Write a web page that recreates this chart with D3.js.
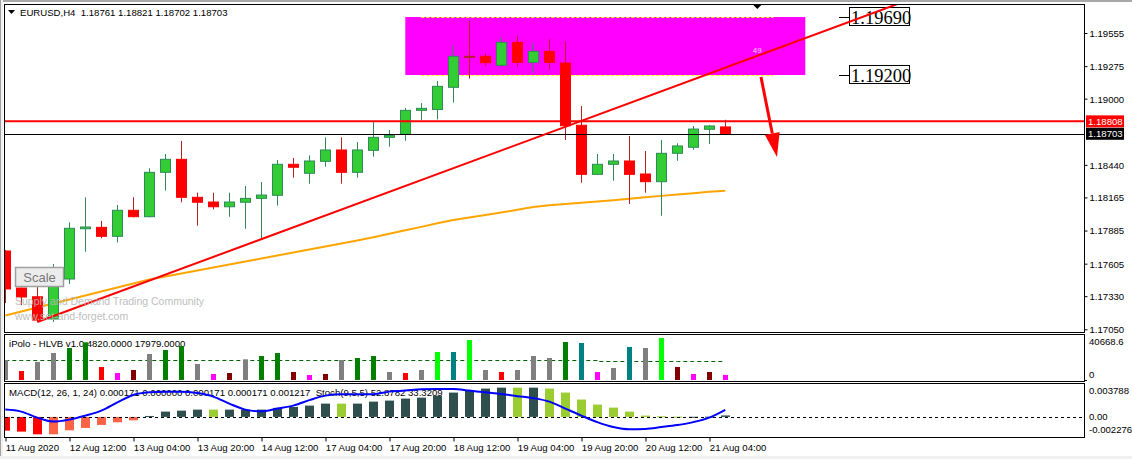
<!DOCTYPE html>
<html><head><meta charset="utf-8">
<script src="https://cdn.jsdelivr.net/npm/d3@7"></script>
<style>
body{margin:0;background:#fff;}
svg{display:block;}
text{font-family:"Liberation Sans",Arial,sans-serif;white-space:pre;}
</style>
</head><body>
<svg id="c" width="1132" height="459"></svg>
<script>
// ---------------- DATA ----------------
const titleText = "EURUSD,H4  1.18761 1.18821 1.18702 1.18703";
const opens  = [1.17712,1.17399,1.17325,1.17137,1.17475,1.17900,1.17912,1.17836,1.18056,1.18002,1.18377,1.18487,1.18166,1.18126,1.18086,1.18124,1.18157,1.18183,1.18445,1.18369,1.18470,1.18566,1.18377,1.18563,1.18673,1.18699,1.18901,1.18908,1.19096,1.19358,1.19358,1.19282,1.19476,1.19307,1.19400,1.19301,1.18775,1.18360,1.18445,1.18473,1.18363,1.18298,1.18538,1.18589,1.18741,1.18761];
const highs  = [1.17720,1.17401,1.17407,1.17602,1.17955,1.18166,1.17966,1.18101,1.18166,1.18411,1.18532,1.18642,1.18205,1.18205,1.18205,1.18261,1.18295,1.18481,1.18498,1.18521,1.18673,1.18673,1.18633,1.18805,1.18735,1.18921,1.18963,1.19149,1.19448,1.19657,1.19383,1.19519,1.19532,1.19468,1.19502,1.19485,1.18938,1.18532,1.18532,1.18684,1.18557,1.18650,1.18622,1.18769,1.18777,1.18821];
const lows   = [1.17272,1.17255,1.17112,1.17112,1.17433,1.17706,1.17819,1.17785,1.17997,1.17997,1.18222,1.18124,1.17926,1.18064,1.18002,1.17900,1.17805,1.18095,1.18332,1.18281,1.18425,1.18281,1.18332,1.18509,1.18594,1.18644,1.18819,1.18824,1.18966,1.19169,1.19279,1.19270,1.19270,1.19219,1.19245,1.18650,1.18289,1.18354,1.18306,1.18109,1.18205,1.18010,1.18475,1.18568,1.18617,1.18702];
const closes = [1.17391,1.17323,1.17128,1.17470,1.17904,1.17915,1.17836,1.18056,1.18002,1.18377,1.18487,1.18166,1.18124,1.18086,1.18126,1.18157,1.18185,1.18445,1.18420,1.18473,1.18566,1.18377,1.18566,1.18673,1.18690,1.18901,1.18918,1.19104,1.19358,1.19356,1.19304,1.19476,1.19307,1.19400,1.19307,1.18771,1.18360,1.18445,1.18473,1.18360,1.18298,1.18538,1.18600,1.18743,1.18769,1.18703];
const movingAvg = [1.17166,1.17200,1.17234,1.17268,1.17302,1.17336,1.17369,1.17403,1.17437,1.17471,1.17496,1.17522,1.17547,1.17572,1.17598,1.17623,1.17648,1.17674,1.17699,1.17725,1.17750,1.17775,1.17801,1.17829,1.17857,1.17887,1.17916,1.17946,1.17974,1.17995,1.18016,1.18037,1.18060,1.18084,1.18098,1.18109,1.18119,1.18130,1.18141,1.18153,1.18166,1.18178,1.18190,1.18201,1.18212,1.18222];
const priceTicks = [1.19555,1.19275,1.19000,1.18440,1.18165,1.17885,1.17605,1.17330,1.17050];
const timeTickBars = [0,4,8,12,16,20,24,28,32,36,40,44];
const timeLabels = ["11 Aug 2020","12 Aug 12:00","13 Aug 04:00","13 Aug 20:00","14 Aug 12:00","17 Aug 04:00","17 Aug 20:00","18 Aug 12:00","19 Aug 04:00","19 Aug 20:00","20 Aug 12:00","21 Aug 04:00"];
const resistanceLevel = 1.18808;
const lastPrice = 1.18703;
const zoneTop = 1.19690, zoneBottom = 1.19200;
const zoneBars = [25, 50];
const zoneDashBars = [26, 48];
const zoneCount = "49";
const trendPoints = [[2, 1.17112],[45, 1.19262]];
const arrowPoints = [[47.23, 1.19183],[48.23, 1.18507]];

const volTitle = "iPolo - HLVB v1.0 4820.0000 17979.0000";
const volume = [18916,8512,17024,25537,30266,35657,12295,6621,9458,24591,28374,32157,15133,5675,6621,19578,22699,25537,7566,4729,5675,18916,20808,22699,7566,6621,9458,26482,26482,37832,9458,7566,9458,22699,20808,35940,34995,7566,11350,31211,30266,39724,12295,5675,7566,4820];
const volType = ["gray","red","gray","gray","green","green","red","magenta","maroon","gray","green","green","gray","magenta","maroon","gray","green","green","maroon","magenta","maroon","gray","green","green","gray","red","gray","lime","teal","lime","gray","red","gray","gray","gray","green","teal","magenta","gray","teal","gray","lime","maroon","magenta","maroon","magenta"];
const volAvg = [19300,19300,19300,19300,19300,19300,19300,19300,19300,19300,19300,19300,19300,19300,19300,19300,19300,19300,19300,19300,19300,19300,19300,18700,18700,18700,18700,18700,18700,18700,18700,18700,18700,18700,18700,18700,18700,17979,17979,17979,17979,17979,17979,17979,17979,17979];
const volMax = 40668.6;
const volTicks = ["40668.6","0"];

const macdTitle = "MACD(12, 26, 1, 24) 0.000171 0.000000 0.000171 0.000171 0.001217  Stoch(9,5,5) 52.8782 33.3209";
const macd = [-0.00158,-0.00169,-0.00200,-0.00200,-0.00154,-0.00127,-0.00092,-0.00062,-0.00039,0.00011,0.00061,0.00072,0.00084,0.00084,0.00084,0.00084,0.00084,0.00104,0.00115,0.00130,0.00153,0.00153,0.00153,0.00176,0.00188,0.00211,0.00222,0.00245,0.00280,0.00303,0.00326,0.00337,0.00337,0.00337,0.00326,0.00280,0.00200,0.00142,0.00107,0.00061,0.00015,0.00007,0.00003,0.00002,0.00003,0.000171];
const macdType = ["red","red","red","salmon","salmon","salmon","salmon","salmon","salmon","slate","slate","slate","slate","yg","slate","slate","slate","slate","slate","slate","slate","yg","slate","slate","slate","slate","slate","slate","slate","slate","slate","slate","yg","slate","yg","yg","yg","yg","yg","yg","yg","yg","yg","slate","slate","slate"];
const signalLine = [0.00084,0.00061,-0.00008,-0.00054,-0.00031,0.00015,0.00072,0.00168,0.00253,0.00283,0.00291,0.00291,0.00274,0.00234,0.00153,0.00084,0.00064,0.00096,0.00130,0.00193,0.00245,0.00262,0.00262,0.00262,0.00291,0.00303,0.00318,0.00322,0.00322,0.00303,0.00283,0.00265,0.00239,0.00216,0.00176,0.00096,0.00015,-0.00060,-0.00117,-0.00143,-0.00138,-0.00117,-0.00094,-0.00060,-0.00008,0.00081];
const macdMax = 0.003788, macdMin = -0.002276;
const macdTickLabels = ["0.003788","0.00","-0.002276"];

// ---------------- DRAW ----------------
const svg = d3.select("#c");
const L = 5, R = 1084;
const main = {top: 4, bottom: 332};
const volP = {top: 334, bottom: 381};
const macP = {top: 383, bottom: 437};

const x  = d3.scaleLinear().domain([0, 45]).range([5.3, 725.3]);
const yP = d3.scaleLinear().domain([1.17050, 1.19555]).range([329.3, 33]);
const yV = d3.scaleLinear().domain([0, volMax]).range([380, 337]);
const yM = d3.scaleLinear().domain([macdMin, macdMax]).range([436.7, 384]);

const volColor = {gray:"#808080", red:"#ff0000", green:"#008000", magenta:"#ff00ff", maroon:"#800000", lime:"#00ff00", teal:"#008080"};
const macdColor = {red:"#ff0000", salmon:"#ff6347", slate:"#2f4f4f", yg:"#9acd32"};

svg.append("rect").attr("width",1132).attr("height",459).attr("fill","#fff");
svg.append("rect").attr("x",0).attr("y",0).attr("width",1132).attr("height",2).attr("fill","#a8a8a8");
svg.append("rect").attr("x",0).attr("y",0).attr("width",3).attr("height",459).attr("fill","#f0f0f0");
svg.append("rect").attr("x",0).attr("y",0).attr("width",1).attr("height",459).attr("fill","#a0a0a0");
svg.append("rect").attr("x",0).attr("y",456).attr("width",1132).attr("height",3).attr("fill","#f0f0f0");

const defs = svg.append("defs");
defs.append("clipPath").attr("id","clipMain").append("rect")
  .attr("x",L).attr("y",main.top+1).attr("width",R-L).attr("height",main.bottom-main.top-1);
defs.append("clipPath").attr("id","clipVol").append("rect")
  .attr("x",L).attr("y",volP.top+1).attr("width",R-L).attr("height",volP.bottom-volP.top-1);
defs.append("clipPath").attr("id","clipMac").append("rect")
  .attr("x",L).attr("y",macP.top+1).attr("width",R-L).attr("height",macP.bottom-macP.top-1);

// ---- main panel ----
const gm = svg.append("g").attr("clip-path","url(#clipMain)");

// title
svg.append("path").attr("d","M8,10 L15,10 L11.5,14 Z").attr("fill","#000");
svg.append("text").attr("x",20).attr("y",16).attr("font-size",9.6).attr("fill","#000").text(titleText);

// zone rectangle
gm.append("rect")
  .attr("x", x(zoneBars[0])).attr("y", yP(zoneTop))
  .attr("width", x(zoneBars[1]) - x(zoneBars[0])).attr("height", yP(zoneBottom) - yP(zoneTop))
  .attr("fill","#ff00ff");
[zoneTop, zoneBottom].forEach(p => {
  gm.append("line").attr("x1", x(zoneDashBars[0])).attr("x2", x(zoneDashBars[1]))
    .attr("y1", Math.round(yP(p))+0.5).attr("y2", Math.round(yP(p))+0.5)
    .attr("stroke","#ffff00").attr("stroke-width",1).attr("stroke-dasharray","3,2");
});
gm.append("text").attr("x", x(47)).attr("y", yP(1.19403)).attr("text-anchor","middle")
  .attr("dominant-baseline","middle").attr("font-size",8).attr("fill","#ffd0ff").text(zoneCount);

// zone price labels
[zoneTop, zoneBottom].forEach(p => {
  const yy = Math.round(yP(p));
  const bx = Math.round(x(52.7));
  gm.append("line").attr("x1",bx-10).attr("x2",bx).attr("y1",yy+0.5).attr("y2",yy+0.5).attr("stroke","#000");
  gm.append("rect").attr("x",bx+0.5).attr("y",yy-9.5).attr("width",60).attr("height",18)
    .attr("fill","#fff").attr("stroke","#000");
  gm.append("text").attr("x",bx+2).attr("y",yy+6.5).attr("font-size",18.5)
    .style("font-family","'Liberation Serif','Times New Roman',serif").attr("fill","#000").text(p.toFixed(5));
});

// moving average
gm.append("path").datum(movingAvg)
  .attr("d", d3.line().x((d,i)=>x(i)).y(d=>yP(d)))
  .attr("fill","none").attr("stroke","#ffa500").attr("stroke-width",2);

// candles
const idx = d3.range(opens.length);
gm.selectAll("line.wick").data(idx).join("line").attr("class","wick")
  .attr("x1", i=>Math.round(x(i))+0.5).attr("x2", i=>Math.round(x(i))+0.5)
  .attr("y1", i=>yP(highs[i])).attr("y2", i=>yP(lows[i]))
  .attr("stroke", i=> closes[i] >= opens[i] ? "#2e8b57" : "#b22222").attr("stroke-width",1);
gm.selectAll("rect.body").data(idx).join("rect").attr("class","body")
  .attr("x", i=>Math.round(x(i))-4.5)
  .attr("y", i=>Math.min(yP(opens[i]), yP(closes[i])))
  .attr("width", 10)
  .attr("height", i=>Math.max(1, Math.abs(yP(opens[i]) - yP(closes[i]))))
  .attr("fill", i=> closes[i] >= opens[i] ? "#32cd32" : (Math.abs(opens[i]-closes[i])<0.00005 ? "#b22222" : "#ff0000"))
  .attr("stroke", i=> closes[i] >= opens[i] ? "#2e8b57" : (Math.abs(opens[i]-closes[i])<0.00005 ? "#b22222" : "#ff0000"))
  .attr("stroke-width",1);

// horizontal levels
gm.append("line").attr("x1",L).attr("x2",R).attr("y1",yP(resistanceLevel)).attr("y2",yP(resistanceLevel))
  .attr("stroke","#ff0000").attr("stroke-width",2);
gm.append("line").attr("x1",L).attr("x2",R).attr("y1",Math.round(yP(lastPrice))+0.5).attr("y2",Math.round(yP(lastPrice))+0.5)
  .attr("stroke","#000").attr("stroke-width",1);

// trendline (ray)
{
  const [p1, p2] = trendPoints;
  const slope = (p2[1]-p1[1])/(p2[0]-p1[0]);
  const endBar = 60;
  gm.append("line").attr("x1", x(p1[0])).attr("y1", yP(p1[1]))
    .attr("x2", x(endBar)).attr("y2", yP(p1[1] + slope*(endBar-p1[0])))
    .attr("stroke","#ff0000").attr("stroke-width",2);
}

// arrow
{
  const [a, b] = arrowPoints;
  const x1 = x(a[0]), y1 = yP(a[1]), x2 = x(b[0]), y2 = yP(b[1]);
  const ang = Math.atan2(y2-y1, x2-x1);
  const headL = 24, headW = 7.5;
  const bx = x2 - headL*Math.cos(ang), by = y2 - headL*Math.sin(ang);
  gm.append("line").attr("x1",x1).attr("y1",y1).attr("x2",bx).attr("y2",by)
    .attr("stroke","#ff0000").attr("stroke-width",3);
  const px = -Math.sin(ang), py = Math.cos(ang);
  gm.append("path").attr("d",`M${x2},${y2} L${bx+px*headW},${by+py*headW} L${bx-px*headW},${by-py*headW} Z`)
    .attr("fill","#ff0000");
}

// shift marker
svg.append("path").attr("d",`M${x(47)-4},5 L${x(47)+4},5 L${x(47)},9 Z`).attr("fill","#000");

// Scale button
svg.append("rect").attr("x",15.5).attr("y",267.5).attr("width",48).attr("height",19)
  .attr("fill","#ececec").attr("stroke","#a0a0a0").attr("stroke-width",1.5);
svg.append("text").attr("x",39.5).attr("y",282).attr("text-anchor","middle").attr("font-size",13)
  .attr("fill","#777").text("Scale");

// watermark
svg.append("text").attr("x",15).attr("y",305).attr("font-size",10.5).attr("fill","#b8b8b8").attr("opacity",0.9)
  .text("Supply and Demand Trading Community");
svg.append("text").attr("x",15).attr("y",320).attr("font-size",10.5).attr("fill","#b8b8b8").attr("opacity",0.9)
  .text("www.set-and-forget.com");

// price axis
const ax = svg.append("g").attr("transform",`translate(${R+0.5},0)`)
  .call(d3.axisRight(yP).tickValues(priceTicks).tickFormat(d3.format(".5f")).tickSize(3).tickPadding(2));
ax.select(".domain").remove();
ax.selectAll("text").attr("font-size",9.6).attr("font-family","Liberation Sans, Arial, sans-serif").attr("fill","#000").attr("dy","0.35em");
ax.selectAll("line").attr("stroke","#000");

// current price tags
[[resistanceLevel,"#ff0000"],[lastPrice,"#000"]].forEach(([p,c]) => {
  const yy = yP(p);
  svg.append("rect").attr("x",1086).attr("y",yy-6).attr("width",38).attr("height",12).attr("fill",c);
  svg.append("text").attr("x",1088).attr("y",yy+3.5).attr("font-size",9.6).attr("fill","#fff").text(p.toFixed(5));
});

// ---- volume panel ----
svg.append("text").attr("x",9).attr("y",347).attr("font-size",9.6).attr("fill","#000").text(volTitle);
const gv = svg.append("g").attr("clip-path","url(#clipVol)");
gv.append("path").datum(volAvg)
  .attr("d", d3.line().x((d,i)=>x(i)).y(d=>Math.round(yV(d))+0.5).curve(d3.curveStepAfter))
  .attr("fill","none").attr("stroke","#006400").attr("stroke-width",1).attr("stroke-dasharray","4,3");
gv.selectAll("rect.vol").data(idx).join("rect").attr("class","vol")
  .attr("x", i=>Math.round(x(i))-2).attr("width",5)
  .attr("y", i=>yV(volume[i])).attr("height", i=>yV(0)-yV(volume[i]))
  .attr("fill", i=>volColor[volType[i]]);
svg.append("text").attr("x",1089).attr("y",yV(volMax)+8).attr("font-size",9.6).attr("fill","#000").text(volTicks[0]);
svg.append("text").attr("x",1089).attr("y",yV(0)-2.5).attr("font-size",9.6).attr("fill","#000").text(volTicks[1]);
svg.append("line").attr("x1",R).attr("x2",R+3).attr("y1",yV(0)+0.5).attr("y2",yV(0)+0.5).attr("stroke","#000");

// ---- MACD panel ----
svg.append("text").attr("x",9).attr("y",396).attr("font-size",9.6).attr("fill","#000").text(macdTitle);
const gc = svg.append("g").attr("clip-path","url(#clipMac)");
gc.selectAll("rect.mh").data(idx).join("rect").attr("class","mh")
  .attr("x", i=>Math.round(x(i))-4).attr("width",9)
  .attr("y", i=>Math.min(yM(0), yM(macd[i])))
  .attr("height", i=>Math.max(1, Math.abs(yM(macd[i]) - yM(0))))
  .attr("fill", i=>macdColor[macdType[i]]);
gc.append("line").attr("x1",L).attr("x2",R).attr("y1",Math.round(yM(0))+0.5).attr("y2",Math.round(yM(0))+0.5)
  .attr("stroke","#000").attr("stroke-dasharray","3,3");
gc.append("path").datum(signalLine)
  .attr("d", d3.line().x((d,i)=>x(i)).y(d=>yM(d)).curve(d3.curveMonotoneX))
  .attr("fill","none").attr("stroke","#0000ff").attr("stroke-width",2);
svg.append("text").attr("x",1089).attr("y",yM(macdMax)+10).attr("font-size",9.6).attr("fill","#000").text(macdTickLabels[0]);
svg.append("text").attr("x",1089).attr("y",yM(0)+3.5).attr("font-size",9.6).attr("fill","#000").text(macdTickLabels[1]);
svg.append("text").attr("x",1089).attr("y",yM(macdMin)-4).attr("font-size",9.6).attr("fill","#000").text(macdTickLabels[2]);

// ---- panel borders ----
[[main.top, main.bottom],[volP.top, volP.bottom],[macP.top, macP.bottom]].forEach(([t,b]) => {
  svg.append("rect").attr("x",L-0.5).attr("y",t+0.5).attr("width",R-L+1).attr("height",b-t)
    .attr("fill","none").attr("stroke","#000").attr("stroke-width",1);
});

// ---- time axis ----
const tx = svg.append("g").attr("transform",`translate(0,${macP.bottom+0.5})`)
  .call(d3.axisBottom(x).tickValues(timeTickBars).tickFormat((d,i)=>timeLabels[i]).tickSize(4).tickPadding(3));
tx.select(".domain").remove();
tx.selectAll("line").attr("stroke","#000").attr("transform","translate(0.2,0)");
tx.selectAll("text").attr("text-anchor","start").attr("font-size",9.6).attr("font-family","Liberation Sans, Arial, sans-serif").attr("fill","#000").attr("x",0);
</script>
</body></html>
